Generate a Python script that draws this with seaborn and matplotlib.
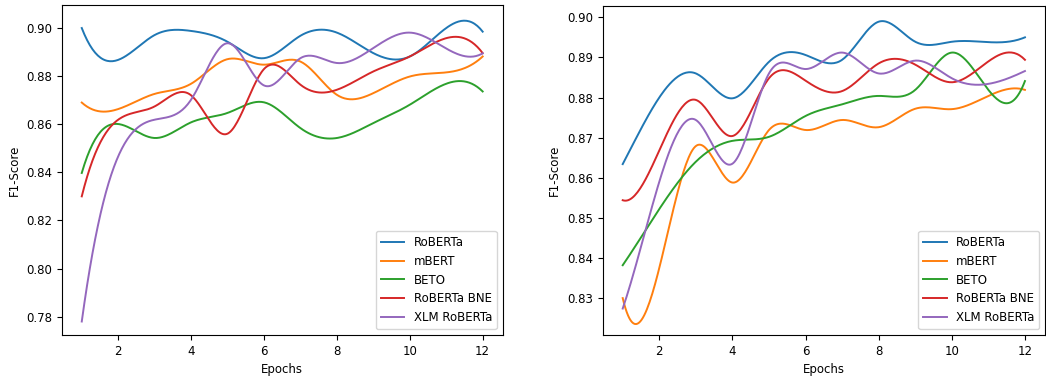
import numpy as np
import pandas as pd
import matplotlib
matplotlib.use("Agg")
import matplotlib.pyplot as plt
import seaborn as sns

epochs = list(range(1, 13))
models = ["RoBERTa", "mBERT", "BETO", "RoBERTa BNE", "XLM RoBERTa"]

# Left panel
left_roberta = [0.8998, 0.8866, 0.8969, 0.8986, 0.8941, 0.8873, 0.8966, 0.8979, 0.8894, 0.8880, 0.8998, 0.8983]
left_mbert = [0.8689, 0.8662, 0.8725, 0.8767, 0.8869, 0.8846, 0.8859, 0.8721, 0.8728, 0.8797, 0.8814, 0.8880]
left_beto = [0.8397, 0.8600, 0.8542, 0.8607, 0.8646, 0.8690, 0.8583, 0.8542, 0.8604, 0.8680, 0.8767, 0.8735]
left_bne = [0.8300, 0.8618, 0.8673, 0.8719, 0.8560, 0.8828, 0.8763, 0.8742, 0.8818, 0.8880, 0.8956, 0.8894]
left_xlm = [0.7781, 0.8466, 0.8618, 0.8701, 0.8935, 0.8760, 0.8873, 0.8853, 0.8915, 0.8979, 0.8913, 0.8893]

# Right panel
right_roberta = [0.8634, 0.8800, 0.8860, 0.8798, 0.8889, 0.8906, 0.8894, 0.8989, 0.8939, 0.8939, 0.8938, 0.8950]
right_mbert = [0.8300, 0.8375, 0.8679, 0.8588, 0.8719, 0.8719, 0.8744, 0.8726, 0.8772, 0.8771, 0.8804, 0.8819]
right_beto = [0.8382, 0.8522, 0.8640, 0.8692, 0.8702, 0.8754, 0.8783, 0.8804, 0.8819, 0.8912, 0.8819, 0.8841]
right_bne = [0.8544, 0.8668, 0.8794, 0.8704, 0.8848, 0.8842, 0.8816, 0.8885, 0.8882, 0.8838, 0.8890, 0.8894]
right_xlm = [0.8274, 0.8590, 0.8744, 0.8635, 0.8860, 0.8871, 0.8912, 0.8860, 0.8892, 0.8848, 0.8834, 0.8866]


def spline_curve(x, y, num=300):
    """Not-a-knot cubic spline through the points (smooth rendering)."""
    x = np.asarray(x, float)
    y = np.asarray(y, float)
    n = len(x)
    h = np.diff(x)
    A = np.zeros((n, n))
    b = np.zeros(n)
    A[0, 0] = -1 / h[0]
    A[0, 1] = 1 / h[0] + 1 / h[1]
    A[0, 2] = -1 / h[1]
    for i in range(1, n - 1):
        A[i, i - 1] = h[i - 1]
        A[i, i] = 2 * (h[i - 1] + h[i])
        A[i, i + 1] = h[i]
        b[i] = 6 * ((y[i + 1] - y[i]) / h[i] - (y[i] - y[i - 1]) / h[i - 1])
    A[n - 1, n - 3] = -1 / h[n - 3]
    A[n - 1, n - 2] = 1 / h[n - 3] + 1 / h[n - 2]
    A[n - 1, n - 1] = -1 / h[n - 2]
    M = np.linalg.solve(A, b)
    xs = np.linspace(x[0], x[-1], num)
    idx = np.clip(np.searchsorted(x, xs) - 1, 0, n - 2)
    x0, x1 = x[idx], x[idx + 1]
    hh = x1 - x0
    ys = (M[idx] * (x1 - xs) ** 3 / (6 * hh) + M[idx + 1] * (xs - x0) ** 3 / (6 * hh)
          + (y[idx] / hh - M[idx] * hh / 6) * (x1 - xs)
          + (y[idx + 1] / hh - M[idx + 1] * hh / 6) * (xs - x0))
    return xs, ys


def build_frame(series):
    frames = []
    for name, vals in zip(models, series):
        xs, ys = spline_curve(epochs, vals)
        frames.append(pd.DataFrame({"Epochs": xs, "F1-Score": ys, "Model": name}))
    return pd.concat(frames, ignore_index=True)


plt.rcParams["font.family"] = ["DejaVu Sans"]
plt.rcParams["font.size"] = 8.5

fig = plt.figure(figsize=(10.46, 3.76), dpi=100)
ax1 = fig.add_axes([0.0590, 0.109, 0.4216, 0.878])
ax2 = fig.add_axes([0.5761, 0.109, 0.4230, 0.876])

palette = sns.color_palette("tab10", 5)

for ax, series in [(ax1, [left_roberta, left_mbert, left_beto, left_bne, left_xlm]),
                   (ax2, [right_roberta, right_mbert, right_beto, right_bne, right_xlm])]:
    df = build_frame(series)
    sns.lineplot(data=df, x="Epochs", y="F1-Score", hue="Model", hue_order=models,
                 palette=palette, linewidth=1.4, ax=ax, sort=False, estimator=None)
    ax.set_xlim(0.45, 12.55)
    ax.set_xticks([2, 4, 6, 8, 10, 12])
    ax.tick_params(labelsize=8.5)
    ax.set_xlabel("Epochs", fontsize=8.5)
    ax.set_ylabel("F1-Score", fontsize=8.5)
    ax.legend(loc="lower right", fontsize=8.5, title=None)

ax1.set_ylim(0.7725, 0.9094)
ax2.set_ylim(0.8208, 0.9029)
ax2.set_yticks([0.83, 0.84, 0.85, 0.86, 0.87, 0.88, 0.89, 0.90])
ax2.set_yticklabels(["0.83", "0.84", "0.85", "0.86", "0.87", "0.88", "0.89", "0.90"])

fig.savefig("out.png", dpi=100)
